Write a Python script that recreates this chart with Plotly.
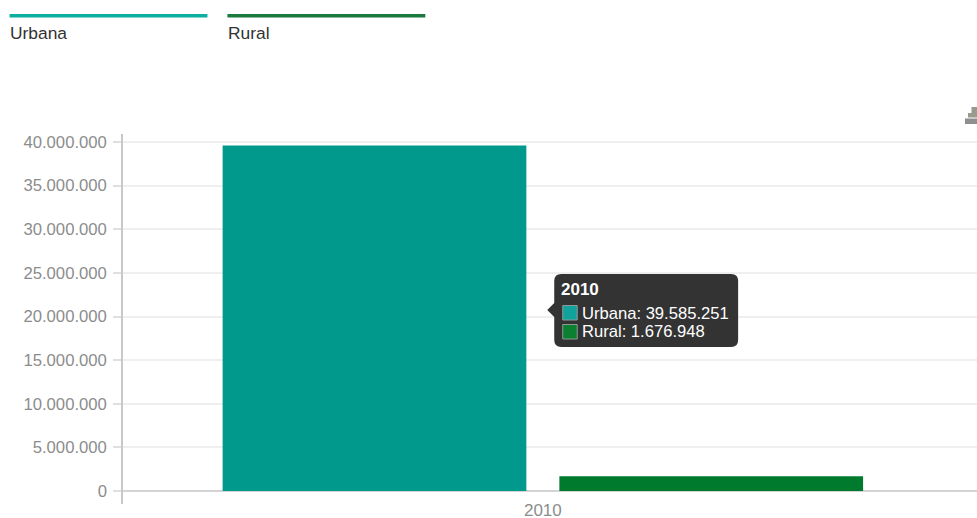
import plotly.graph_objects as go

WIDTH, HEIGHT = 977, 518
LEFT, TOP, BOTTOM = 122.5, 134, 504

years = ["2010"]
urbana = [39585251]
rural = [1676948]
series_names = ["Urbana", "Rural"]
bar_colors = ["#00998c", "#007a2c"]
legend_colors = ["#0bb0a0", "#1b7a3e"]
swatch_colors = ["#12a29c", "#0a8030"]
y_ticks = [0, 5000000, 10000000, 15000000, 20000000, 25000000, 30000000, 35000000, 40000000]


# Paper coordinates are measured against the plot area, so convert from page pixels
def px(x):
    return (x - LEFT) / (WIDTH - LEFT)


def py(y):
    return (BOTTOM - y) / (BOTTOM - TOP)


def dotted(n):
    return f"{n:,}".replace(",", ".")


def label(x, y, text, size, color, anchor="left", bold=False):
    return dict(
        x=px(x), y=py(y), xref="paper", yref="paper", text=f"<b>{text}</b>" if bold else text,
        showarrow=False, xanchor=anchor, yanchor="middle",
        font=dict(size=size, color=color), borderpad=0,
    )


def box(x0, y0, x1, y1, fill, line=None):
    return dict(
        type="rect", xref="paper", yref="paper",
        x0=px(x0), x1=px(x1), y0=py(y0), y1=py(y1),
        fillcolor=fill, line=dict(width=1 if line else 0, color=line or fill),
    )


def path_shape(points, fill):
    d = "M" + " L".join(f"{px(x):.5f},{py(y):.5f}" for x, y in points) + " Z"
    return dict(type="path", xref="paper", yref="paper", path=d, fillcolor=fill, line=dict(width=0))


def tooltip_outline(x0, y0, x1, y1, r, tip_y, tip=7):
    # Rounded panel with a small pointer on its left side
    def c(x, y):
        return f"{px(x):.5f},{py(y):.5f}"
    return (
        f"M{c(x0 + r, y0)} L{c(x1 - r, y0)} Q{c(x1, y0)} {c(x1, y0 + r)} "
        f"L{c(x1, y1 - r)} Q{c(x1, y1)} {c(x1 - r, y1)} L{c(x0 + r, y1)} "
        f"Q{c(x0, y1)} {c(x0, y1 - r)} L{c(x0, tip_y + tip)} L{c(x0 - tip, tip_y)} "
        f"L{c(x0, tip_y - tip)} L{c(x0, y0 + r)} Q{c(x0, y0)} {c(x0 + r, y0)} Z"
    )


fig = go.Figure()
for name, values, color in zip(series_names, [urbana, rural], bar_colors):
    fig.add_bar(x=years, y=values, name=name, marker=dict(color=color, line=dict(width=0)))

shapes = [
    # Legend keys
    box(9, 14, 207, 17.5, legend_colors[0]),
    box(227, 14, 425, 17.5, legend_colors[1]),
    # Tooltip panel and its colour keys
    dict(type="path", xref="paper", yref="paper", fillcolor="#333333", line=dict(width=0),
         path=tooltip_outline(554, 274, 738, 347, 7, 310)),
    box(562.5, 305.5, 577, 320, swatch_colors[0], "#8f9a98"),
    box(562.5, 324.5, 577, 339, swatch_colors[1], "#8f9a98"),
    # Download icon, cut off by the page edge
    box(965, 118.5, 980, 124, "#8f8f8f"),
    path_shape([(971.5, 107), (980, 107), (980, 117.5), (968, 117.5), (968, 113), (971.5, 113)], "#9a9a8e"),
]

annotations = [
    label(8.5, 32.8, series_names[0], 17.4, "#333333"),
    label(227, 32.8, series_names[1], 17.4, "#333333"),
    label(560, 289.5, years[0], 17, "#ffffff", bold=True),
    label(581, 313, f"{series_names[0]}: {dotted(urbana[0])}", 16.6, "#ffffff"),
    label(581, 331, f"{series_names[1]}: {dotted(rural[0])}", 16.6, "#ffffff"),
]

fig.update_layout(
    width=WIDTH, height=HEIGHT,
    margin=dict(l=LEFT, r=0, t=TOP, b=HEIGHT - BOTTOM, pad=0, autoexpand=False),
    paper_bgcolor="#ffffff", plot_bgcolor="#ffffff",
    font=dict(family="Liberation Sans, Arial, sans-serif"),
    showlegend=False,
    barmode="group", bargap=0.198, bargroupgap=0.098,
    separators=",.",
    shapes=shapes, annotations=annotations,
)
fig.update_xaxes(
    type="category", range=[-0.5, 0.517], showgrid=False, zeroline=False,
    showline=False, ticks="", automargin=False, ticklabelstandoff=-6,
    tickfont=dict(size=17, color="#8c8c8c"),
)
fig.update_yaxes(
    range=[-1490000, 40917000], tickvals=y_ticks, tickformat=",d",
    showgrid=True, gridcolor="#efefef", gridwidth=2,
    zeroline=True, zerolinecolor="#d4d4d4", zerolinewidth=2,
    showline=True, linecolor="#c8c8c8", linewidth=1.5,
    ticks="outside", ticklen=8, tickwidth=1.5, tickcolor="#e0e0e0",
    ticklabelstandoff=3, automargin=False,
    tickfont=dict(size=16.7, color="#8c8c8c"),
)

fig.write_html("out.html")
